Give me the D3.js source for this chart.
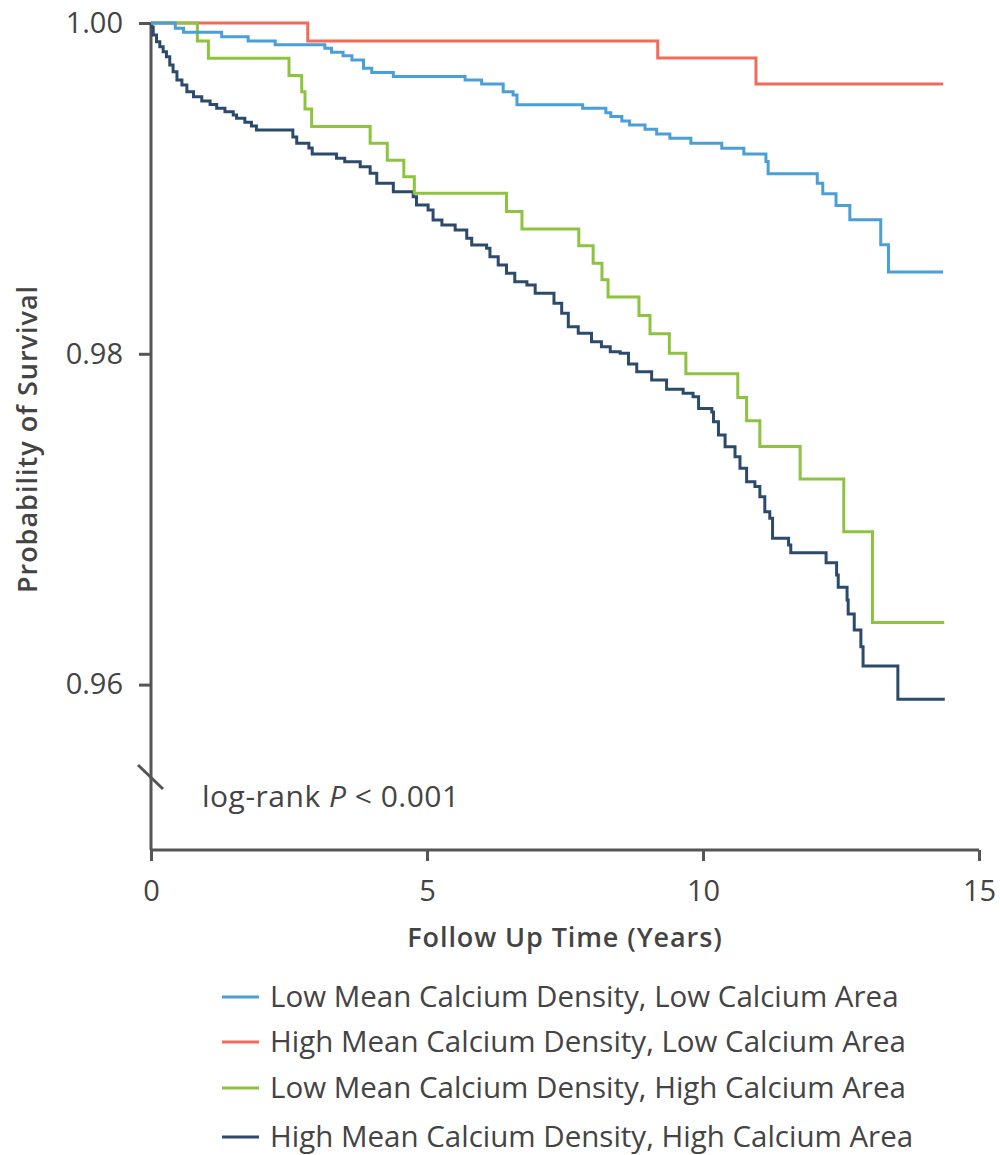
<!DOCTYPE html>
<html>
<head>
<meta charset="utf-8">
<script src="https://cdn.jsdelivr.net/npm/d3@7"></script>
<style>
  body { margin: 0; background: #fff; }
  text { font-family: "Open Sans", "Noto Sans", sans-serif; fill: #444; }
</style>
</head>
<body>
<div id="chart"></div>
<script>
// survival curves: time (years) where a step happens, level after it
const seriesNames = [
  "Low Mean Calcium Density, Low Calcium Area",
  "High Mean Calcium Density, Low Calcium Area",
  "Low Mean Calcium Density, High Calcium Area",
  "High Mean Calcium Density, High Calcium Area"
];
const seriesColors = ["#4b9fd6", "#f26a59", "#8cc43f", "#2c4b6c"];
const endTimes = [14.35, 14.35, 14.37, 14.38];

const lowLowTime = [0, 0.44, 0.59, 1.28, 1.76, 2.25, 3.15, 3.27, 3.48, 3.64, 3.85, 4.00, 4.39,
  5.69, 5.99, 6.38, 6.56, 6.63, 7.82, 8.24, 8.33, 8.53, 8.67, 8.95, 9.16, 9.40, 9.78,
  10.34, 10.74, 11.14, 11.18, 12.07, 12.17, 12.41, 12.66, 13.22, 13.36];
const lowLowSurv = [1, 0.99968, 0.99944, 0.99917, 0.99891, 0.99869, 0.99847, 0.99823, 0.99802,
  0.99776, 0.99726, 0.99700, 0.99676, 0.99656, 0.99631, 0.99585, 0.99565, 0.99505, 0.99485,
  0.99458, 0.99434, 0.99408, 0.99384, 0.99358, 0.99329, 0.99303, 0.99273, 0.99243, 0.99208,
  0.99162, 0.99088, 0.99031, 0.98967, 0.98896, 0.98810, 0.98659, 0.98494];

const highLowTime = [0, 2.84, 9.18, 10.96];
const highLowSurv = [1, 0.99891, 0.99789, 0.99631];

const lowHighTime = [0, 0.84, 1.04, 2.50, 2.73, 2.79, 2.91, 3.97, 4.28, 4.58, 4.77, 6.44, 6.72,
  7.75, 8.01, 8.17, 8.28, 8.84, 9.04, 9.39, 9.69, 10.63, 10.79, 11.03, 11.76, 12.55, 13.07];
const lowHighSurv = [1, 0.99891, 0.99787, 0.99682, 0.99585, 0.99480, 0.99375, 0.99273, 0.99170,
  0.99071, 0.98971, 0.98860, 0.98755, 0.98653, 0.98548, 0.98447, 0.98343, 0.98231, 0.98121,
  0.98004, 0.97879, 0.97736, 0.97595, 0.97440, 0.97243, 0.96924, 0.96376];

const highHighTime = [0, 0.01, 0.04, 0.10, 0.16, 0.22, 0.28, 0.34, 0.40, 0.47, 0.56, 0.65, 0.77,
  0.92, 1.07, 1.19, 1.34, 1.49, 1.55, 1.70, 1.82, 1.91, 2.57, 2.64, 2.86, 2.92, 3.36, 3.51,
  3.79, 3.97, 4.09, 4.39, 4.75, 4.81, 5.02, 5.11, 5.27, 5.51, 5.72, 5.81, 6.08, 6.14, 6.29,
  6.44, 6.59, 6.81, 6.96, 7.30, 7.44, 7.56, 7.74, 7.98, 8.16, 8.32, 8.50, 8.65, 8.80, 9.07,
  9.34, 9.64, 9.82, 9.92, 10.16, 10.19, 10.28, 10.40, 10.58, 10.67, 10.79, 10.94, 11.03,
  11.12, 11.21, 11.26, 11.55, 11.59, 12.23, 12.42, 12.45, 12.61, 12.63, 12.74, 12.86, 12.90,
  13.53];
const highHighSurv = [1, 0.99976, 0.99927, 0.99887, 0.99857, 0.99826, 0.99796, 0.99746, 0.99705,
  0.99655, 0.99625, 0.99585, 0.99554, 0.99528, 0.99508, 0.99484, 0.99464, 0.99444, 0.99424,
  0.99400, 0.99377, 0.99353, 0.99311, 0.99273, 0.99244, 0.99208, 0.99182, 0.99161, 0.99131,
  0.99091, 0.99031, 0.98980, 0.98950, 0.98900, 0.98869, 0.98809, 0.98779, 0.98748, 0.98698,
  0.98658, 0.98638, 0.98587, 0.98537, 0.98487, 0.98436, 0.98416, 0.98366, 0.98305, 0.98245,
  0.98164, 0.98124, 0.98073, 0.98043, 0.98013, 0.98003, 0.97938, 0.97892, 0.97842, 0.97785,
  0.97761, 0.97741, 0.97670, 0.97648, 0.97589, 0.97509, 0.97438, 0.97378, 0.97308, 0.97227,
  0.97197, 0.97136, 0.97045, 0.97005, 0.96885, 0.96844, 0.96797, 0.96737, 0.96663, 0.96588,
  0.96511, 0.96427, 0.96330, 0.96229, 0.96112, 0.95911];

const xTicks = [0, 5, 10, 15];
const yTicks = [0.96, 0.98, 1.00];

const svg = d3.select('#chart')
  .append('svg')
  .attr('width', 1000)
  .attr('height', 1155);

const x = d3.scaleLinear().domain([0, 15]).range([151, 979]);
const y = d3.scaleLinear().domain([0.95, 1.0]).range([850, 23]);

const axisColor = "#555";

// axes
const xAxis = svg.append('g')
  .attr('transform', 'translate(0,850)')
  .call(d3.axisBottom(x).tickValues(xTicks).tickSize(11).tickSizeOuter(0).tickPadding(19));
const yAxis = svg.append('g')
  .attr('transform', 'translate(151,0)')
  .call(d3.axisLeft(y).tickValues(yTicks).tickFormat(d3.format('.2f')).tickSize(12).tickSizeOuter(0).tickPadding(16));

[xAxis, yAxis].forEach(function (g) {
  g.select('.domain').attr('stroke', axisColor).attr('stroke-width', 3);
  g.selectAll('.tick line').attr('stroke', axisColor).attr('stroke-width', 3);
  g.selectAll('.tick text')
    .attr('fill', '#444')
    .style('font-family', '"Open Sans", sans-serif')
    .style('font-size', '29px');
});
// stretch y-axis line down to x-axis
yAxis.select('.domain').attr('d', `M0,${y(1.0)}V${y(0.95)}`);
xAxis.select('.domain').attr('d', `M${x(0)},0H${x(15)}`);

// axis break mark
svg.append('line')
  .attr('x1', 138).attr('y1', 765)
  .attr('x2', 163).attr('y2', 789)
  .attr('stroke', axisColor)
  .attr('stroke-width', 3);

// curves
const line = d3.line()
  .x(d => x(d[0]))
  .y(d => y(d[1]))
  .curve(d3.curveStepAfter);

function makePoints(times, surv, end) {
  const pts = times.map((t, i) => [t, surv[i]]);
  pts.push([end, surv[surv.length - 1]]);
  return pts;
}

const curves = [
  makePoints(lowLowTime, lowLowSurv, endTimes[0]),
  makePoints(highLowTime, highLowSurv, endTimes[1]),
  makePoints(lowHighTime, lowHighSurv, endTimes[2]),
  makePoints(highHighTime, highHighSurv, endTimes[3])
];

// drawing order: dark, red, green, blue on top
[3, 1, 2, 0].forEach(function (i) {
  svg.append('path')
    .datum(curves[i])
    .attr('d', line)
    .attr('fill', 'none')
    .attr('stroke', seriesColors[i])
    .attr('stroke-width', 3);
});

// annotation
const note = svg.append('text')
  .attr('x', 202)
  .attr('y', 807)
  .style('font-size', '30px')
  .style('letter-spacing', '0.5px');
note.append('tspan').text('log-rank ');
note.append('tspan').attr('font-style', 'italic').text('P');
note.append('tspan').text(' < 0.001');

// axis titles
svg.append('text')
  .attr('x', 565)
  .attr('y', 947)
  .attr('text-anchor', 'middle')
  .style('font-size', '27px')
  .style('font-weight', 600)
  .style('letter-spacing', '0.9px')
  .text('Follow Up Time (Years)');

svg.append('text')
  .attr('transform', 'translate(37,439) rotate(-90)')
  .attr('text-anchor', 'middle')
  .style('font-size', '27px')
  .style('font-weight', 600)
  .style('letter-spacing', '1px')
  .text('Probability of Survival');

// legend
const legendY = [997, 1042, 1088, 1137];
seriesNames.forEach(function (name, i) {
  svg.append('line')
    .attr('x1', 222).attr('x2', 259)
    .attr('y1', legendY[i]).attr('y2', legendY[i])
    .attr('stroke', seriesColors[i])
    .attr('stroke-width', 3);
  svg.append('text')
    .attr('x', 270)
    .attr('y', legendY[i])
    .attr('dy', '0.35em')
    .style('font-size', '29.5px')
    .text(name);
});
</script>
</body>
</html>
